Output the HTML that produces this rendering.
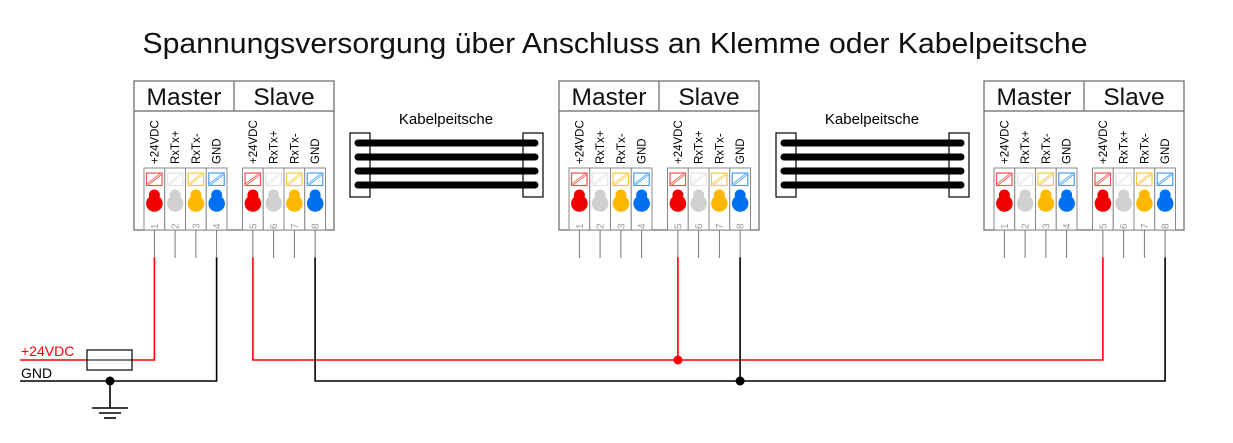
<!DOCTYPE html>
<html><head><meta charset="utf-8"><style>html,body{margin:0;padding:0;background:#fff}svg{display:block}</style></head>
<body>
<svg width="1233" height="443" viewBox="0 0 1233 443" xmlns="http://www.w3.org/2000/svg" font-family="Liberation Sans, Arial, sans-serif">
<defs>
<g id="term">
  <rect x="0" y="0" width="20.75" height="62" fill="#fff" stroke="#888" stroke-width="1"/>
</g>
<g id="ic">
  <rect x="2.5" y="5" width="15.5" height="12.5" fill="#fff" stroke-width="1.2"/>
  <line x1="3.5" y1="16.5" x2="17" y2="6" stroke-width="2.5"/>
  <line x1="3.5" y1="16.5" x2="17" y2="6" stroke="#fff" stroke-width="0.8"/>
</g>
<g id="blob">
  <circle cx="10.4" cy="27" r="5.5"/>
  <circle cx="10.4" cy="35.5" r="8.3"/>
</g>
<g id="mod">
  <rect x="0" y="0" width="200" height="149" fill="#fff" stroke="#666" stroke-width="1.2"/>
  <line x1="0" y1="30" x2="200" y2="30" stroke="#666" stroke-width="1.2"/>
  <line x1="100" y1="0" x2="100" y2="30" stroke="#666" stroke-width="1.2"/>
  <g transform="translate(10,87)">
    <use href="#term" x="0"/><use href="#term" x="20.75"/><use href="#term" x="41.5"/><use href="#term" x="62.25"/>
    <use href="#term" x="98.5"/><use href="#term" x="119.25"/><use href="#term" x="140"/><use href="#term" x="160.75"/>
    <use href="#ic" x="0" stroke="#f05050"/><use href="#ic" x="20.75" stroke="#e4e4e4"/><use href="#ic" x="41.5" stroke="#f5c842"/><use href="#ic" x="62.25" stroke="#4a9ef5"/>
    <use href="#ic" x="98.5" stroke="#f05050"/><use href="#ic" x="119.25" stroke="#e4e4e4"/><use href="#ic" x="140" stroke="#f5c842"/><use href="#ic" x="160.75" stroke="#4a9ef5"/>
    <use href="#blob" x="0" fill="#f00000"/><use href="#blob" x="20.75" fill="#d0d0d0"/><use href="#blob" x="41.5" fill="#ffb800"/><use href="#blob" x="62.25" fill="#0070f0"/>
    <use href="#blob" x="98.5" fill="#f00000"/><use href="#blob" x="119.25" fill="#d0d0d0"/><use href="#blob" x="140" fill="#ffb800"/><use href="#blob" x="160.75" fill="#0070f0"/>
  </g>
  <g stroke="#777" stroke-width="1">
    <line x1="20.4" y1="149" x2="20.4" y2="177"/><line x1="41.1" y1="149" x2="41.1" y2="177"/><line x1="61.9" y1="149" x2="61.9" y2="177"/><line x1="82.6" y1="149" x2="82.6" y2="177"/>
    <line x1="118.9" y1="149" x2="118.9" y2="177"/><line x1="139.6" y1="149" x2="139.6" y2="177"/><line x1="160.4" y1="149" x2="160.4" y2="177"/><line x1="181.1" y1="149" x2="181.1" y2="177"/>
  </g>
</g>
<g id="cable">
  <rect x="0" y="0" width="20" height="64" fill="#fff" stroke="#000" stroke-width="1.2"/>
  <rect x="173" y="0" width="20" height="64" fill="#fff" stroke="#000" stroke-width="1.2"/>
  <g stroke="#000" stroke-width="7" stroke-linecap="round">
    <line x1="8" y1="10" x2="185" y2="10"/><line x1="8" y1="24" x2="185" y2="24"/><line x1="8" y1="38" x2="185" y2="38"/><line x1="8" y1="52" x2="185" y2="52"/>
  </g>
</g>
</defs>

<text x="615" y="53" font-size="29" text-anchor="middle" textLength="945" lengthAdjust="spacingAndGlyphs" fill="#111">Spannungsversorgung über Anschluss an Klemme oder Kabelpeitsche</text>

<g fill="none" stroke-width="1.6">
  <polyline points="20,360 87,360" stroke="#f00"/>
  <polyline points="132,360 154.4,360 154.4,257" stroke="#f00"/>
  <polyline points="20,381 216.6,381 216.6,257" stroke="#000"/>
  <polyline points="252.9,257 252.9,360 1102.9,360 1102.9,257" stroke="#f00"/>
  <line x1="677.9" y1="257" x2="677.9" y2="360" stroke="#f00"/>
  <polyline points="315.1,257 315.1,381 1165.1,381 1165.1,257" stroke="#000"/>
  <line x1="740.1" y1="257" x2="740.1" y2="381" stroke="#000"/>
  <line x1="110" y1="381" x2="110" y2="408" stroke="#000"/>
  <line x1="92" y1="408" x2="128" y2="408" stroke="#000"/>
  <line x1="99" y1="413" x2="121" y2="413" stroke="#000"/>
  <line x1="104" y1="418" x2="116" y2="418" stroke="#000"/>
</g>
<rect x="87" y="350" width="45" height="20" fill="#fff" stroke="#000" stroke-width="1.2"/>
<line x1="87" y1="360" x2="132" y2="360" stroke="#000" stroke-width="1"/>
<circle cx="110" cy="381" r="4.5" fill="#000"/>
<circle cx="677.9" cy="360" r="4.5" fill="#f00"/>
<circle cx="740.1" cy="381" r="4.5" fill="#000"/>
<text x="21" y="356" font-size="14" fill="#f00">+24VDC</text>
<text x="21" y="378" font-size="14" fill="#000">GND</text>

<use href="#mod" x="134" y="81"/>
<use href="#mod" x="559" y="81"/>
<use href="#mod" x="984" y="81"/>
<use href="#cable" x="350" y="133"/>
<use href="#cable" x="776" y="133"/>
<text x="446" y="124" font-size="15" text-anchor="middle">Kabelpeitsche</text>
<text x="872" y="124" font-size="15" text-anchor="middle">Kabelpeitsche</text>

<g font-size="24.5" text-anchor="middle" fill="#111">
  <text x="184" y="105">Master</text><text x="284" y="105">Slave</text>
  <text x="609" y="105">Master</text><text x="709" y="105">Slave</text>
  <text x="1034" y="105">Master</text><text x="1134" y="105">Slave</text>
</g>

<g font-size="11.5" fill="#000">
  <g transform="translate(134,0)">
    <text transform="translate(24.5,164) rotate(-90)">+24VDC</text>
    <text transform="translate(45.2,164) rotate(-90)">RxTx+</text>
    <text transform="translate(66,164) rotate(-90)">RxTx-</text>
    <text transform="translate(86.7,164) rotate(-90)">GND</text>
    <text transform="translate(123,164) rotate(-90)">+24VDC</text>
    <text transform="translate(143.7,164) rotate(-90)">RxTx+</text>
    <text transform="translate(164.5,164) rotate(-90)">RxTx-</text>
    <text transform="translate(185.2,164) rotate(-90)">GND</text>
  </g>
  <g transform="translate(559,0)">
    <text transform="translate(24.5,164) rotate(-90)">+24VDC</text>
    <text transform="translate(45.2,164) rotate(-90)">RxTx+</text>
    <text transform="translate(66,164) rotate(-90)">RxTx-</text>
    <text transform="translate(86.7,164) rotate(-90)">GND</text>
    <text transform="translate(123,164) rotate(-90)">+24VDC</text>
    <text transform="translate(143.7,164) rotate(-90)">RxTx+</text>
    <text transform="translate(164.5,164) rotate(-90)">RxTx-</text>
    <text transform="translate(185.2,164) rotate(-90)">GND</text>
  </g>
  <g transform="translate(984,0)">
    <text transform="translate(24.5,164) rotate(-90)">+24VDC</text>
    <text transform="translate(45.2,164) rotate(-90)">RxTx+</text>
    <text transform="translate(66,164) rotate(-90)">RxTx-</text>
    <text transform="translate(86.7,164) rotate(-90)">GND</text>
    <text transform="translate(123,164) rotate(-90)">+24VDC</text>
    <text transform="translate(143.7,164) rotate(-90)">RxTx+</text>
    <text transform="translate(164.5,164) rotate(-90)">RxTx-</text>
    <text transform="translate(185.2,164) rotate(-90)">GND</text>
  </g>
</g>
<g font-size="10" fill="#999">
  <g transform="translate(134,0)">
    <text transform="translate(24,229) rotate(-90)">1</text><text transform="translate(44.7,229) rotate(-90)">2</text><text transform="translate(65.5,229) rotate(-90)">3</text><text transform="translate(86.2,229) rotate(-90)">4</text>
    <text transform="translate(122.5,229) rotate(-90)">5</text><text transform="translate(143.2,229) rotate(-90)">6</text><text transform="translate(164,229) rotate(-90)">7</text><text transform="translate(184.7,229) rotate(-90)">8</text>
  </g>
  <g transform="translate(559,0)">
    <text transform="translate(24,229) rotate(-90)">1</text><text transform="translate(44.7,229) rotate(-90)">2</text><text transform="translate(65.5,229) rotate(-90)">3</text><text transform="translate(86.2,229) rotate(-90)">4</text>
    <text transform="translate(122.5,229) rotate(-90)">5</text><text transform="translate(143.2,229) rotate(-90)">6</text><text transform="translate(164,229) rotate(-90)">7</text><text transform="translate(184.7,229) rotate(-90)">8</text>
  </g>
  <g transform="translate(984,0)">
    <text transform="translate(24,229) rotate(-90)">1</text><text transform="translate(44.7,229) rotate(-90)">2</text><text transform="translate(65.5,229) rotate(-90)">3</text><text transform="translate(86.2,229) rotate(-90)">4</text>
    <text transform="translate(122.5,229) rotate(-90)">5</text><text transform="translate(143.2,229) rotate(-90)">6</text><text transform="translate(164,229) rotate(-90)">7</text><text transform="translate(184.7,229) rotate(-90)">8</text>
  </g>
</g>
</svg>
</body></html>
